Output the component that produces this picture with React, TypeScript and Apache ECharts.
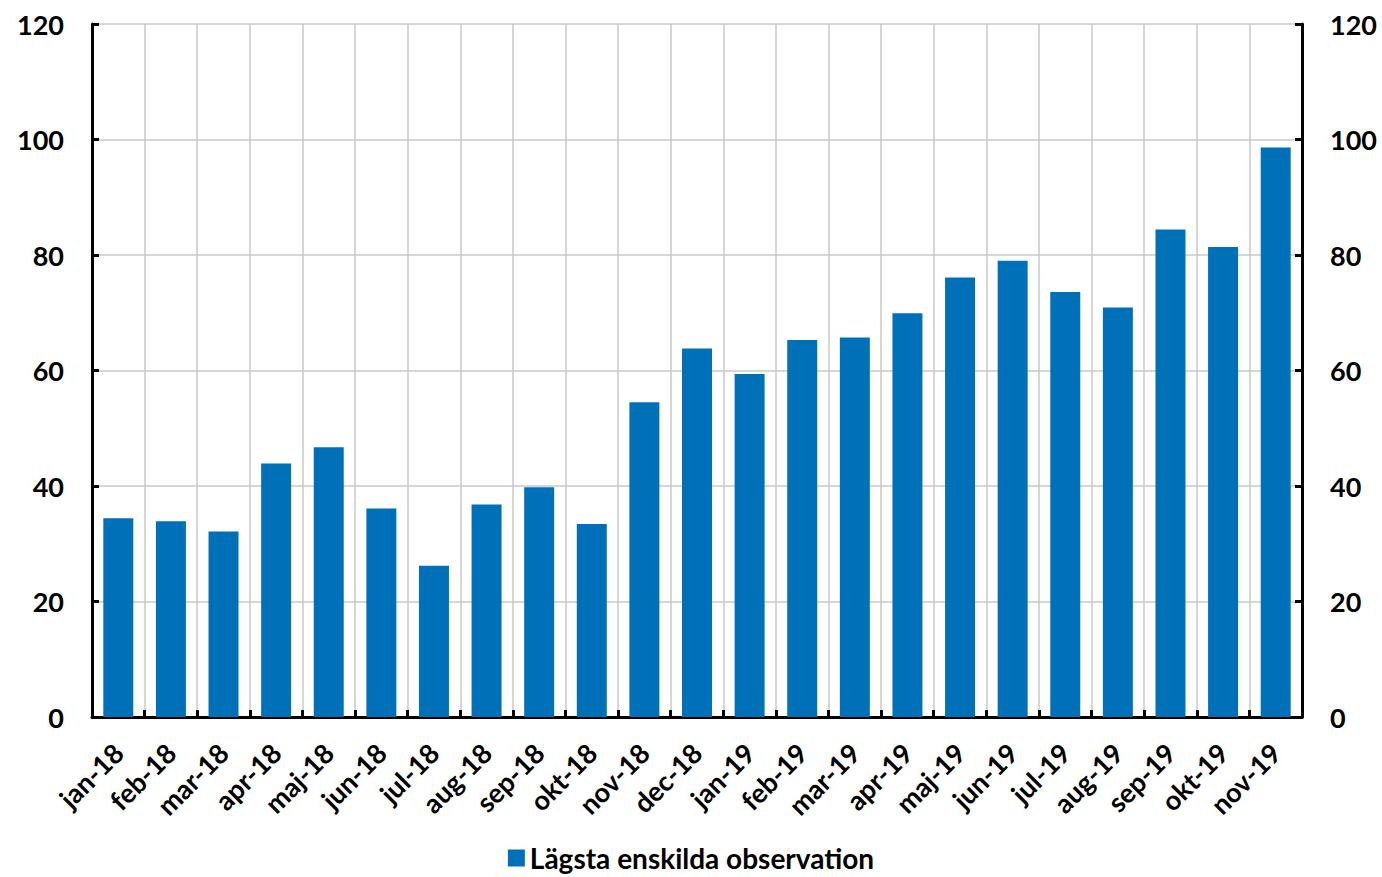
import React, { useEffect, useRef } from "react";
import * as echarts from "echarts";

const categories = [
  "jan-18", "feb-18", "mar-18", "apr-18", "maj-18", "jun-18", "jul-18", "aug-18",
  "sep-18", "okt-18", "nov-18", "dec-18", "jan-19", "feb-19", "mar-19", "apr-19",
  "maj-19", "jun-19", "jul-19", "aug-19", "sep-19", "okt-19", "nov-19",
];
const lowestObservation = [
  34.4, 33.9, 32.1, 43.9, 46.7, 36.1, 26.2, 36.8, 39.8, 33.4, 54.5, 63.8,
  59.4, 65.3, 65.7, 69.9, 76.1, 79.0, 73.6, 70.9, 84.4, 81.4, 98.6,
];
const seriesName = "Lägsta enskilda observation";
const FONT = "Lato, 'Open Sans', 'DejaVu Sans', sans-serif";

export default function App() {
  const ref = useRef<HTMLDivElement>(null);
  useEffect(() => {
    if (!ref.current) return;
    const chart = echarts.init(ref.current, null, { renderer: "svg" });
    const yAxisCommon = {
      type: "value" as const,
      min: 0,
      max: 120,
      interval: 20,
      axisLine: { show: true, lineStyle: { color: "#000", width: 3 } },
      axisTick: { show: true, inside: true, length: 7, lineStyle: { color: "#000", width: 3 } },
      axisLabel: { color: "#000", fontSize: 27, fontWeight: "bold" as const, fontFamily: FONT, margin: 28 },
    };
    chart.setOption({
      animation: false,
      backgroundColor: "#fff",
      grid: { left: 92, right: 80, top: 24, bottom: 160, containLabel: false },
      legend: {
        bottom: 0,
        left: "center",
        icon: "rect",
        itemWidth: 17,
        itemHeight: 17,
        itemGap: 8,
        itemStyle: { borderWidth: 0 },
        textStyle: { color: "#000", fontSize: 28, fontWeight: "bold", fontFamily: FONT },
        data: [seriesName],
      },
      xAxis: {
        type: "category",
        data: categories,
        axisLine: { show: true, onZero: false, lineStyle: { color: "#000", width: 3 } },
        axisTick: { show: true, inside: true, length: 7, alignWithLabel: false, lineStyle: { color: "#000", width: 3 } },
        splitLine: { show: true, lineStyle: { color: "#c8c8c8", width: 1.5 } },
        axisLabel: {
          color: "#000",
          fontSize: 27,
          fontWeight: "bold",
          fontFamily: FONT,
          rotate: 45,
          margin: 31,
          interval: 0,
        },
      },
      yAxis: [
        { ...yAxisCommon, position: "left", splitLine: { show: true, lineStyle: { color: "#c8c8c8", width: 1.5 } } },
        { ...yAxisCommon, position: "right", splitLine: { show: false } },
      ],
      series: [
        {
          name: seriesName,
          type: "bar",
          data: lowestObservation,
          barWidth: "57%",
          itemStyle: { color: "#0070b8" },
        },
      ],
    });
    return () => chart.dispose();
  }, []);
  return (
    <div
      ref={ref}
      style={{ position: "fixed", left: 0, top: 0, width: 1382, height: 877, background: "#fff" }}
    />
  );
}
